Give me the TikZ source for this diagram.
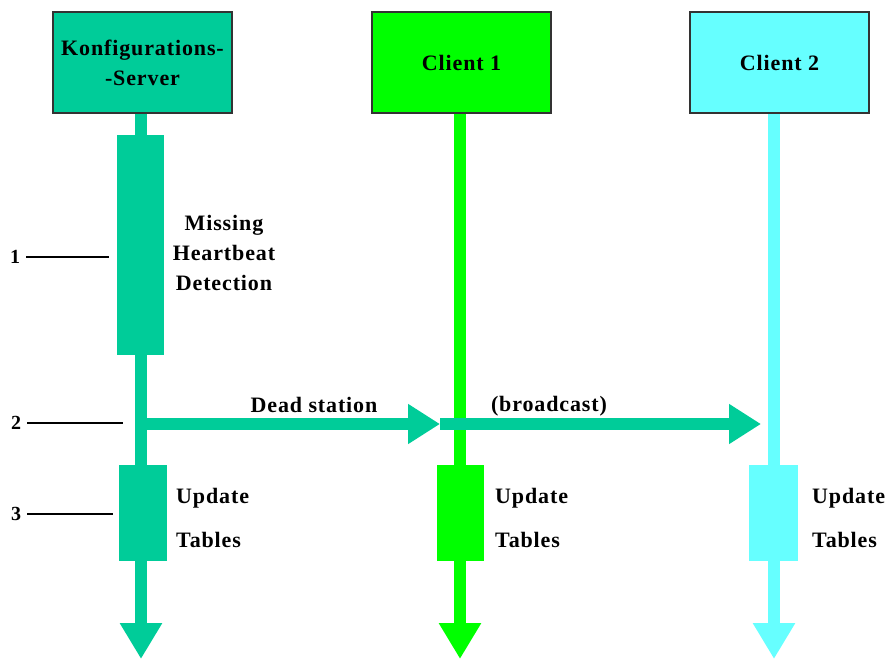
\documentclass[tikz,border=0pt]{standalone}
\usepackage{fontspec}
\setmainfont{Liberation Serif}
\newfontfamily\widefont[LetterSpace=4]{Liberation Serif}
\usetikzlibrary{arrows.meta}
\definecolor{srvcol}{RGB}{0,204,153}
\definecolor{cagreen}{RGB}{0,255,0}
\definecolor{cbcyan}{RGB}{102,255,255}
\begin{document}
\begin{tikzpicture}[x=1pt,y=-1pt,
  head/.style={draw=black!80, line width=2pt, minimum width=179pt, minimum height=101pt,
    inner sep=0pt, align=center, font=\widefont\fontsize{22}{30}\selectfont\bfseries},
  life/.style={line width=11.5pt, -{Triangle[length=36pt,width=40pt]}},
  bar/.style={inner sep=0pt, minimum width=47pt},
  msg/.style={line width=12pt, draw=srvcol, -{Triangle[length=32pt,width=38pt]}},
  lbl/.style={font=\widefont\fontsize{22}{30}\selectfont\bfseries, inner sep=0pt, align=center},
  upd/.style={font=\widefont\fontsize{22}{44}\selectfont\bfseries, inner sep=0pt, align=left, anchor=west},
  num/.style={font=\fontsize{20}{24}\selectfont\bfseries, inner sep=0pt},
  tick/.style={line width=1.3pt, draw=black}]

\useasboundingbox (0,0) rectangle (887,659);

% lifelines
\coordinate (sTop) at (141,113);  \coordinate (sBot) at (141,659);
\coordinate (aTop) at (460,113);  \coordinate (aBot) at (460,659);
\coordinate (bTop) at (774,113);  \coordinate (bBot) at (774,659);
\draw[life, srvcol] (sTop) -- (sBot);
\draw[life, cagreen] (aTop) -- (aBot);
\draw[life, cbcyan] (bTop) -- (bBot);

% activation bars
\node[bar, fill=srvcol, minimum height=220pt] (detect) at (140.5,245) {};
\node[bar, fill=srvcol, minimum height=96pt, minimum width=48pt] (updS) at (143,513) {};
\node[bar, fill=cagreen, minimum height=96pt] (updA) at (460.5,513) {};
\node[bar, fill=cbcyan, minimum height=96pt, minimum width=49pt] (updB) at (773.5,513) {};

% heads
\node[head, fill=srvcol] (server) at (142.5,62.5) {Konfigurations-\\-Server};
\node[head, fill=cagreen] (client1) at (461.5,62.5) {Client 1};
\node[head, fill=cbcyan] (client2) at (779.5,62.5) {Client 2};

% dead station message
\coordinate (m0) at (141,424);
\coordinate (m1) at (440,424);
\coordinate (m2) at (761,424);
\draw[msg] (m0) -- (m1);
\draw[msg] (m1) -- (m2);

% labels
\node[lbl] (tMiss) at (224,253) {Missing\\Heartbeat\\Detection};
\node[lbl] (tDead) at (314,405) {Dead station};
\node[lbl] (tBroad) at (549,406) {(broadcast)};
\node[upd] (tUs) at (176,518) {Update\\Tables};
\node[upd] (tUa) at (495,518) {Update\\Tables};
\node[upd] (tUb) at (812,518) {Update\\Tables};

% step numbers
\node[num] (n1) at (15,257) {1};
\node[num] (n2) at (16,423) {2};
\node[num] (n3) at (16,514) {3};
\coordinate (e1) at (109,257);
\coordinate (e2) at (123,423);
\coordinate (e3) at (113,514);
\draw[tick] (n1.east) ++(6,0) -- (e1);
\draw[tick] (n2.east) ++(6,0) -- (e2);
\draw[tick] (n3.east) ++(6,0) -- (e3);
\end{tikzpicture}
\end{document}
